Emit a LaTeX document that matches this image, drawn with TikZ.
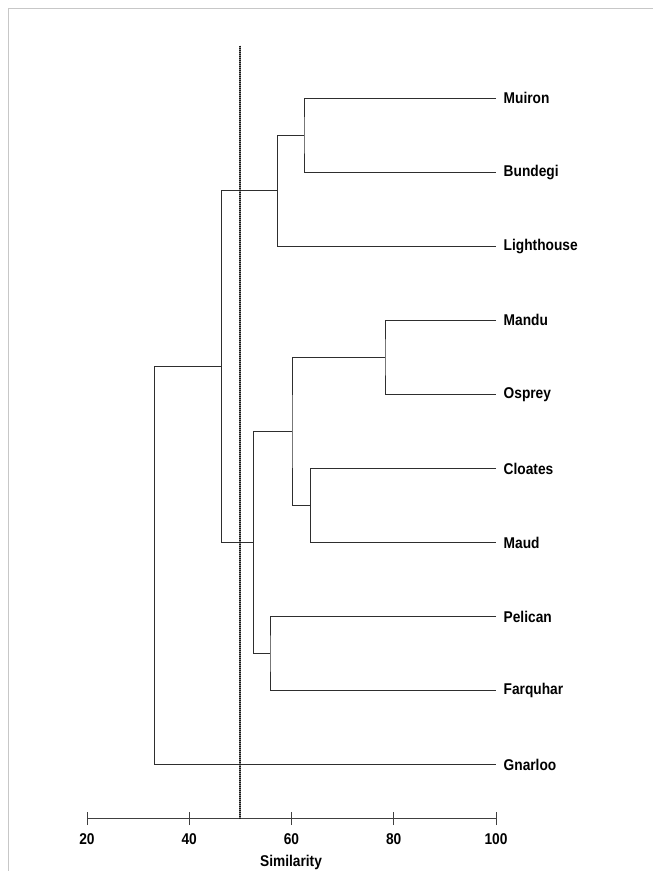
\documentclass[tikz,border=0pt]{standalone}
\usepackage{fontspec}
\setmainfont{Liberation Sans}
\newfontfamily\labfont[FakeStretch=0.88]{Liberation Sans}
\begin{document}
\begin{tikzpicture}[x=1pt,y=-1pt,
  tree/.style={draw=black!82,line width=1pt},
  leaflabel/.style={anchor=west,inner xsep=7.5pt,inner ysep=0pt,font=\labfont\fontsize{15.6}{16}\selectfont\bfseries},
  ticklabel/.style={anchor=center,inner sep=0pt,font=\labfont\fontsize{15.6}{16}\selectfont\bfseries},
  axisline/.style={draw=black!75,line width=1pt},
  frameline/.style={draw=black!22,line width=1.5pt}]
\useasboundingbox (0,0) rectangle (653,871);
% frame
\coordinate (fTL) at (8.5,8.5);
\coordinate (fTR) at (653,8.5);
\coordinate (fBL) at (8.5,871);
\draw[frameline] (fTR) -- (fTL) -- (fBL);
% leaves
\node[leaflabel] (Muiron) at (496,98) {Muiron};
\node[leaflabel] (Bundegi) at (496,172.1) {Bundegi};
\node[leaflabel] (Lighthouse) at (496,246.2) {Lighthouse};
\node[leaflabel] (Mandu) at (496,320.3) {Mandu};
\node[leaflabel] (Osprey) at (496,394.4) {Osprey};
\node[leaflabel] (Cloates) at (496,468.5) {Cloates};
\node[leaflabel] (Maud) at (496,542.6) {Maud};
\node[leaflabel] (Pelican) at (496,616.7) {Pelican};
\node[leaflabel] (Farquhar) at (496,690.8) {Farquhar};
\node[leaflabel] (Gnarloo) at (496,764.9) {Gnarloo};
% internal merge points
\coordinate (m1) at (304,135.05);
\coordinate (m2) at (277.3,190.6);
\coordinate (m3) at (385,357.35);
\coordinate (m4) at (310.5,505.55);
\coordinate (m5) at (292,431.45);
\coordinate (m6) at (270,653.75);
\coordinate (m7) at (253.7,542.6);
\coordinate (m8) at (221.7,366.6);
\coordinate (m9) at (154.3,565.75);
% tree
\draw[tree] (Muiron.west) -| (m1) |- (Bundegi.west);
\draw[tree] (m1) -| (m2) |- (Lighthouse.west);
\draw[tree] (Mandu.west) -| (m3) |- (Osprey.west);
\draw[tree] (Cloates.west) -| (m4) |- (Maud.west);
\draw[tree] (m3) -| (m5) |- (m4);
\draw[tree] (Pelican.west) -| (m6) |- (Farquhar.west);
\draw[tree] (m5) -| (m7) |- (m6);
\draw[tree] (m2) -| (m8) |- (m7);
\draw[tree] (m8) -| (m9) |- (Gnarloo.west);
% axis
\coordinate (t20) at (87,818.5);
\coordinate (t40) at (189.2,818.5);
\coordinate (t60) at (291.5,818.5);
\coordinate (t80) at (393.7,818.5);
\coordinate (t100) at (496,818.5);
\draw[axisline] (t20) -- (t100);
\foreach \t in {t20,t40,t60,t80,t100}{
  \draw[axisline] ([yshift=-6.5pt]\t) -- ([yshift=6.5pt]\t);
}
\node[ticklabel] (l20) at (87,839.5) {20};
\node[ticklabel] (l40) at (189.2,839.5) {40};
\node[ticklabel] (l60) at (291.5,839.5) {60};
\node[ticklabel] (l80) at (393.7,839.5) {80};
\node[ticklabel] (l100) at (496,839.5) {100};
\node[ticklabel] (sim) at (291,862) {Similarity};
% cut-off line at 50
\coordinate (cutTop) at (240,45.5);
\coordinate (cutBot) at (240,818.5);
\draw[draw=black!45,line width=2.6pt] (cutTop) -- (cutBot);
\draw[draw=black!90,line width=2.6pt,dash pattern=on 1.4pt off 0.6pt] (cutTop) -- (cutBot);
\end{tikzpicture}
\end{document}
